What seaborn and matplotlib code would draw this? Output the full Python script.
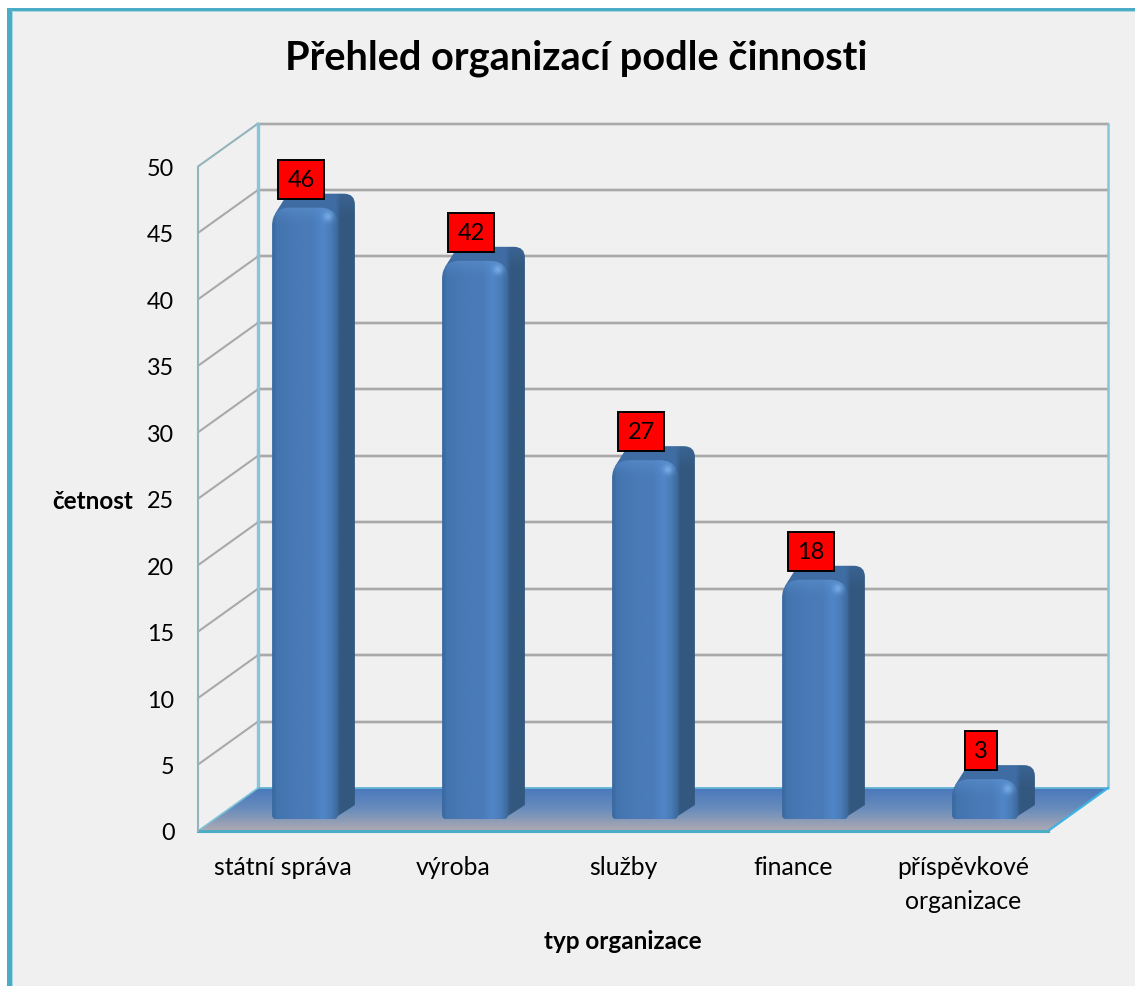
#! /usr/bin/env python
# imports
from matplotlib.colors import LinearSegmentedColormap, to_rgb
from matplotlib.patches import Rectangle
from matplotlib.path import Path
from matplotlib.transforms import Affine2D, IdentityTransform
import matplotlib.pyplot as plt
import numpy as np
import seaborn as sns

# data
categories = ["státní správa", "výroba", "služby", "finance", "příspěvkové\norganizace"]
counts = [46, 42, 27, 18, 3]
y_ticks = [0, 5, 10, 15, 20, 25, 30, 35, 40, 45, 50]

# settings
sns.set_style("white")
plt.rcParams['font.family'] = ['Lato', 'DejaVu Sans']
W, H = 1135, 987
BG = '#f0f0f0'
GRID = '#a9a9a9'
TEAL = '#4bacc6'

fig = plt.figure(figsize=(W / 100, H / 100), dpi=100, facecolor='white')

# outer frame: only left and top edges show
fig.add_artist(Rectangle((7 / W, 0), (W - 7) / W, (H - 9) / H, transform=fig.transFigure,
                         facecolor=TEAL, edgecolor='none', zorder=-3))
fig.add_artist(Rectangle((12 / W, 0), (W - 12) / W, (H - 12) / H, transform=fig.transFigure,
                         facecolor='#a9d6e3', edgecolor='none', zorder=-2))
fig.add_artist(Rectangle((13 / W, 0), (W - 13) / W, (H - 13) / H, transform=fig.transFigure,
                         facecolor=BG, edgecolor='none', zorder=-1))

ax = fig.add_axes([198 / W, (H - 832) / H, 850 / W, 664.5 / H])
ax.patch.set_alpha(0)
sns.barplot(x=categories, y=counts, width=0.387, color='#4a7ebb', ax=ax)
ax.set_xlim(-0.5, 4.5)
ax.set_ylim(0, 50)
ax.set_autoscale_on(False)

# offsets in display pixels for the 3D look
wall = ax.transData + Affine2D().translate(60, 43)
depth = Affine2D().translate(22, 12)

# back wall and side wall gridlines
for v in y_ticks[1:]:
    ax.plot([-0.5, 4.5], [v, v], color='#d6d6d6', lw=2.6, transform=wall, clip_on=False, zorder=1)
    ax.plot([-0.5, 4.5], [v, v], color=GRID, lw=1.5, transform=wall, clip_on=False, zorder=1.1)
    p0 = ax.transData.transform((-0.5, v))
    p1 = wall.transform((-0.5, v))
    side_color = '#93b4bc' if v == y_ticks[-1] else GRID
    ax.plot([p0[0], p1[0]], [p0[1], p1[1]], color=side_color, lw=1.5,
            transform=IdentityTransform(), clip_on=False, zorder=1.2)

# wall verticals
for xv, lw in [(-0.5, 2.4), (4.5, 1.8)]:
    ax.plot([xv, xv], [0, 50], color='#86c6d9', lw=lw, transform=wall, clip_on=False, zorder=1.3)

# floor
fl = ax.transData.transform([(-0.5, 0), (4.5, 0)])
bk = wall.transform([(-0.5, 0), (4.5, 0)])
floor_path = Path([fl[0], fl[1], bk[1], bk[0], fl[0]], closed=True)
floor_cmap = LinearSegmentedColormap.from_list('floor', ['#4a78bd', '#6a8dbb', '#aeaab2'])
floor_img = floor_cmap(np.linspace(0, 1, 64))[:, None, :]
im = ax.imshow(floor_img, extent=(fl[0][0], bk[1][0], fl[0][1], bk[0][1]), origin='upper',
               aspect='auto', transform=IdentityTransform(), zorder=2, interpolation='bilinear')
im.set_clip_box(fig.bbox)
im.set_clip_path(floor_path, IdentityTransform())
ax.plot([bk[0][0], bk[1][0]], [bk[0][1], bk[1][1]], color='#62b4d6', lw=1.3,
        transform=IdentityTransform(), clip_on=False, zorder=2.1)
ax.plot([fl[1][0], bk[1][0]], [fl[1][1], bk[1][1]], color='#3fb2e4', lw=1.6,
        transform=IdentityTransform(), clip_on=False, zorder=2.1)
ax.plot([fl[0][0], bk[0][0]], [fl[0][1], bk[0][1]], color='#7cc3d8', lw=1.2,
        transform=IdentityTransform(), clip_on=False, zorder=2.1)

front_cmap = LinearSegmentedColormap.from_list(
    'front', [(0, '#39689f'), (0.07, '#4374ae'), (0.35, '#4a7ab6'), (0.62, '#4a7cb9'),
              (0.78, '#5086c8'), (0.9, '#4a7cb7'), (1, '#3d6a9f')])


def rounded(L, R, b, t, rt, rb):
    # rounded rectangle path, display coordinates with y going up
    verts = [(L, b + rb), (L, t - rt), (L, t), (L + rt, t), (R - rt, t), (R, t), (R, t - rt),
             (R, b + rb), (R, b), (R - rb, b), (L + rb, b), (L, b), (L, b + rb), (L, b + rb)]
    codes = [Path.MOVETO, Path.LINETO, Path.CURVE3, Path.CURVE3, Path.LINETO, Path.CURVE3, Path.CURVE3,
             Path.LINETO, Path.CURVE3, Path.CURVE3, Path.LINETO, Path.CURVE3, Path.CURVE3, Path.CLOSEPOLY]
    return Path(verts, codes)


def draw_bar(bar, order):
    # read the bar from seaborn and draw it as a rounded 3D column
    x0, x1 = bar.get_x(), bar.get_x() + bar.get_width()
    (L, b), (R, t) = depth.transform(ax.transData.transform([(x0, 0), (x1, bar.get_height())]))
    dx, dy = 17, 14

    # back part: top face and right side
    back_verts = [(L + 3, t - 6), (L + dx - 2, t + dy - 1), (L + dx + 8, t + dy), (R + 6, t + dy), (R + dx, t + dy),
                  (R + dx, t + 3), (R + dx, b + dy), (R, b + 3), (L + 20, b + 3), (L + 3, t - 6)]
    back_codes = [Path.MOVETO, Path.LINETO, Path.LINETO, Path.LINETO, Path.CURVE3, Path.CURVE3,
                  Path.LINETO, Path.LINETO, Path.LINETO, Path.CLOSEPOLY]
    w, h = 64, max(int(t - b + dy), 2)
    top_c, side_c = np.array(to_rgb('#3f6da3')), np.array(to_rgb('#33587f'))
    xs = np.linspace(L, R + dx, w)
    mix = np.clip((xs - (R - 2)) / 5, 0, 1)[None, :, None]
    back = top_c * (1 - mix) + side_c * mix
    back = np.repeat(back, h, axis=0)
    # top right of the side stays lighter
    fade = np.clip(1 - np.arange(h) / 22, 0, 1)[:, None, None]
    back = back * (1 - 0.55 * fade) + top_c * 0.55 * fade
    im_b = ax.imshow(back, extent=(L, R + dx, b, t + dy), origin='upper', aspect='auto',
                     transform=IdentityTransform(), zorder=3 + order, interpolation='bilinear')
    im_b.set_clip_box(fig.bbox)
    im_b.set_clip_path(Path(back_verts, back_codes), IdentityTransform())

    # front face
    w, h = 66, max(int(t - b), 2)
    front = np.repeat(front_cmap(np.linspace(0, 1, w))[None, :, :3], h, axis=0)
    yy, xx = np.mgrid[0:h, 0:w]
    band = np.clip(1 - yy / 18, 0, 1)[:, :, None] ** 1.5
    front = front * (1 - 0.55 * band) + np.array(to_rgb('#5c90d0')) * 0.55 * band
    glow = np.exp(-((xx - 0.84 * w) ** 2 + (yy - 9) ** 2) / 22)[:, :, None]
    front = front * (1 - 0.8 * glow) + np.array(to_rgb('#7db2ee')) * 0.8 * glow
    im_f = ax.imshow(front, extent=(L, R, b, t), origin='upper', aspect='auto',
                     transform=IdentityTransform(), zorder=3.5 + order, interpolation='bilinear')
    im_f.set_clip_box(fig.bbox)
    im_f.set_clip_path(rounded(L, R, b, t, 18, 4), IdentityTransform())


for i, bar in enumerate(ax.patches):
    bar.set_alpha(0)
    draw_bar(bar, i)

# value labels
for i, v in enumerate(counts):
    ax.annotate(str(v), xy=(i, v), xytext=(18 * 0.72, 40.5 * 0.72), textcoords='offset points',
                ha='center', va='center', fontsize=17, color='black', zorder=20,
                annotation_clip=False,
                bbox=dict(boxstyle='square,pad=0.38', facecolor='#ff0000', edgecolor='black', linewidth=1.4))

# axes, ticks and text
sns.despine(ax=ax, top=True, right=True)
ax.spines['left'].set_color('#93b4bc')
ax.spines['left'].set_linewidth(1.5)
ax.spines['bottom'].set_color(TEAL)
ax.spines['bottom'].set_linewidth(2.2)
ax.spines['bottom'].set_zorder(2.2)
ax.set_yticks(y_ticks)
ax.tick_params(axis='both', length=0, colors='black')
ax.tick_params(axis='y', pad=17, labelsize=16.8)
ax.tick_params(axis='x', pad=17, labelsize=17.8)
for lab in ax.get_xticklabels():
    lab.set_linespacing(1.6)
ax.set_xlabel("typ organizace", fontsize=17.5, fontweight='bold', color='black')
ax.set_ylabel("četnost", fontsize=17.5, fontweight='bold', rotation=0, ha='right', va='center', color='black')
ax.xaxis.set_label_coords(0.4995, -110 / 664.5)
ax.yaxis.set_label_coords(-65 / 850, 330 / 664.5)
ax.xaxis.label.set_va('center')
fig.text(576 / W, 1 - 58 / H, "Přehled organizací podle činnosti", fontsize=28.6, fontweight='bold',
         ha='center', va='center', color='black')

ax.set_xlim(-0.5, 4.5)
ax.set_ylim(0, 50)
fig.savefig('out.png', dpi=100)
plt.close()
